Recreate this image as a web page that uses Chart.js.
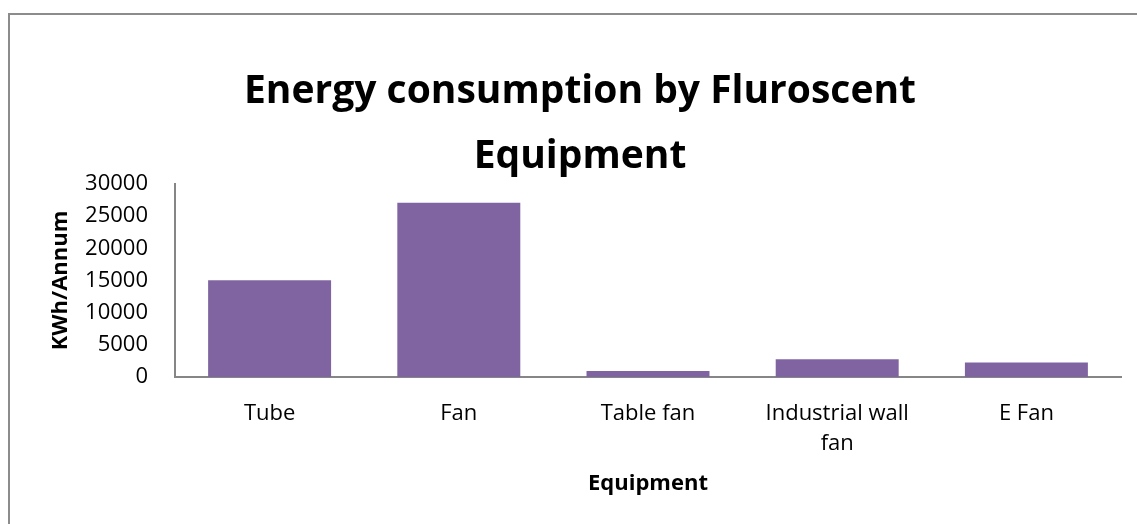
<!DOCTYPE html>
<html>
<head>
<meta charset="utf-8">
<title>Energy consumption by Fluroscent Equipment</title>
<script src="https://cdn.jsdelivr.net/npm/chart.js@4"></script>
<style>
  html, body { margin: 0; padding: 0; background: #fff; overflow: hidden; }
</style>
</head>
<body>
<canvas id="energyChart" width="1137" height="524"></canvas>
<script>
// yearly consumption per equipment type
const equipment = ['Tube', 'Fan', 'Table fan', ['Industrial wall', 'fan'], 'E Fan'];
const kwhPerAnnum = [15050, 27100, 930, 2750, 2240];
const yTicks = [0, 5000, 10000, 15000, 20000, 25000, 30000];
const titleLines = ['Energy consumption by Fluroscent', 'Equipment'];

const axisGray = '#868686';

// thin frame along the top and left edge
const framePlugin = {
    id: 'frame',
    beforeDraw(chart) {
        const ctx = chart.ctx;
        ctx.save();
        ctx.strokeStyle = '#8c8c8c';
        ctx.lineWidth = 2;
        ctx.beginPath();
        ctx.moveTo(9, chart.height);
        ctx.lineTo(9, 14);
        ctx.lineTo(chart.width, 14);
        ctx.stroke();
        ctx.restore();
    }
};

// two-line heading
const headingPlugin = {
    id: 'heading',
    afterDraw(chart) {
        const ctx = chart.ctx;
        ctx.save();
        ctx.font = 'bold 39px "Open Sans"';
        ctx.fillStyle = '#000';
        ctx.textAlign = 'center';
        ctx.textBaseline = 'alphabetic';
        ctx.fillText(titleLines[0], 580, 103);
        ctx.fillText(titleLines[1], 580, 168);
        ctx.restore();
    }
};

const ctx = document.getElementById('energyChart').getContext('2d');

new Chart(ctx, {
    type: 'bar',
    data: {
        labels: equipment,
        datasets: [{
            label: 'KWh/Annum',
            data: kwhPerAnnum,
            backgroundColor: '#8064A2',
            borderWidth: 0,
            categoryPercentage: 1,
            barPercentage: 0.65
        }]
    },
    options: {
        responsive: false,
        animation: false,
        layout: { padding: { top: 184, right: 16, left: 0, bottom: 0 } },
        plugins: {
            legend: { display: false },
            tooltip: { enabled: false }
        },
        scales: {
            x: {
                grid: { display: false, drawTicks: false },
                border: { display: true, color: axisGray, width: 2 },
                ticks: {
                    color: '#000',
                    font: { family: '"Open Sans"', size: 22, lineHeight: 1.36 },
                    padding: 22,
                    autoSkip: false,
                    maxRotation: 0
                },
                title: {
                    display: true,
                    text: 'Equipment',
                    color: '#000',
                    font: { family: '"Open Sans"', size: 22, weight: 'bold' },
                    padding: { top: 0, bottom: 27 }
                },
                afterFit(scale) { scale.height = 147; }
            },
            y: {
                min: 0,
                max: 30000,
                grid: { display: false, drawTicks: false },
                border: { display: true, color: axisGray, width: 2 },
                ticks: {
                    color: '#000',
                    font: { family: '"Open Sans"', size: 22 },
                    padding: 27,
                    callback: value => String(value)
                },
                afterBuildTicks(scale) {
                    scale.ticks = yTicks.map(v => ({ value: v }));
                },
                title: {
                    display: true,
                    text: 'KWh/Annum',
                    color: '#000',
                    font: { family: '"Open Sans"', size: 22, weight: 'bold' },
                    padding: { top: 48, bottom: 0 }
                },
                afterFit(scale) { scale.width = 175; }
            }
        }
    },
    plugins: [framePlugin, headingPlugin]
});
</script>
</body>
</html>
